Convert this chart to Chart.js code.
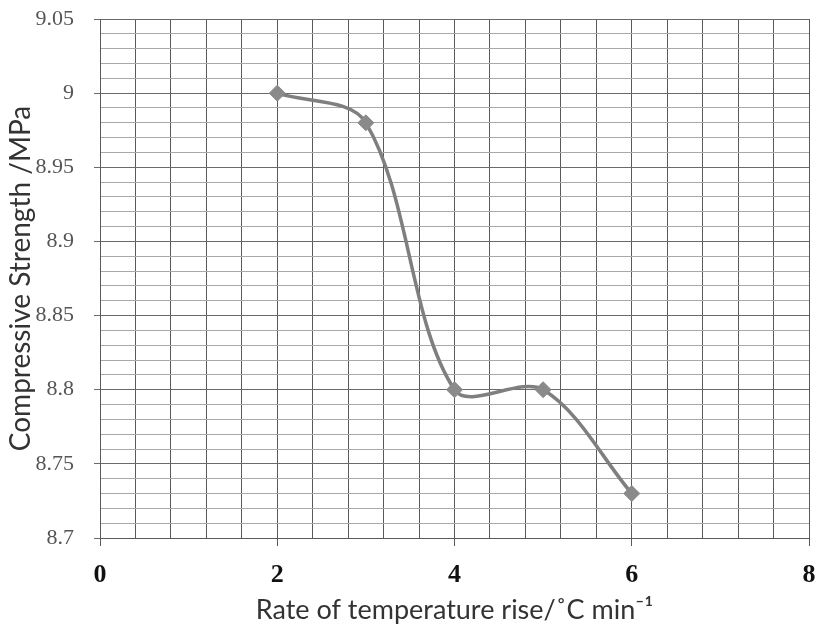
<!DOCTYPE html>
<html>
<head>
<meta charset="utf-8">
<script src="https://cdn.jsdelivr.net/npm/chart.js@4/dist/chart.umd.min.js"></script>
<style>
  html, body { margin: 0; padding: 0; background: #fff; }
  #wrap { width: 818px; height: 635px; position: relative; }
</style>
</head>
<body>
<div id="wrap"><canvas id="c" width="818" height="635"></canvas></div>
<script>
// Heating rate (°C/min) and compressive strength (MPa)
const rates = [2, 3, 4, 5, 6];
const strength = [9.00, 8.98, 8.80, 8.80, 8.73];

// Axis ranges and labelled tick values
const xRange = [0, 8];
const xLabelled = [0, 2, 4, 6, 8];
const yRange = [8.7, 9.05];
const yLabelled = [8.7, 8.75, 8.8, 8.85, 8.9, 8.95, 9, 9.05];

const isLabelledX = v => xLabelled.some(t => Math.abs(t - v) < 1e-6);
const isLabelledY = v => yLabelled.some(t => Math.abs(t - v) < 1e-6);

const points = rates.map((x, i) => ({ x: x, y: strength[i] }));

new Chart(document.getElementById('c'), {
  type: 'scatter',
  data: {
    datasets: [{
      data: points,
      showLine: true,
      tension: 0.33,
      borderColor: '#7f7f7f',
      borderWidth: 3.5,
      pointStyle: 'rectRot',
      pointRadius: 8,
      pointBackgroundColor: '#8a8a8a',
      pointBorderColor: '#8a8a8a',
      pointBorderWidth: 1
    }]
  },
  options: {
    responsive: false,
    animation: false,
    layout: { padding: { top: 19, right: 6, left: 0, bottom: 0 } },
    plugins: { legend: { display: false }, tooltip: { enabled: false } },
    scales: {
      x: {
        type: 'linear',
        min: xRange[0],
        max: xRange[1],
        afterFit: s => { s.height = 97; s.paddingLeft = 0; s.paddingRight = 0; },
        ticks: {
          stepSize: 0.4,
          autoSkip: false,
          maxRotation: 0,
          padding: 14,
          color: '#111',
          font: { family: '"Liberation Serif", "Times New Roman", serif', size: 26, weight: 'bold' },
          callback: v => isLabelledX(v) ? String(Math.round(v)) : ''
        },
        grid: {
          color: '#5a5a5a',
          lineWidth: 1,
          tickLength: 8,
          tickColor: ctx => isLabelledX(ctx.tick.value) ? '#5a5a5a' : 'rgba(0,0,0,0)'
        },
        border: { color: '#5a5a5a', width: 1 },
        title: {
          display: true,
          text: 'Rate of temperature rise/˚C min⁻¹',
          color: '#333',
          font: { family: 'Lato, "Open Sans", sans-serif', size: 27 },
          padding: { top: 0, bottom: 9 }
        }
      },
      y: {
        type: 'linear',
        min: yRange[0],
        max: yRange[1],
        afterFit: s => { s.width = 100; s.paddingTop = 0; s.paddingBottom = 0; },
        ticks: {
          stepSize: 0.01,
          autoSkip: false,
          padding: 20,
          color: '#555',
          font: { family: '"Liberation Serif", "Times New Roman", serif', size: 22 },
          callback: v => isLabelledY(v) ? String(Math.round(v * 100) / 100) : ''
        },
        grid: {
          color: ctx => isLabelledY(ctx.tick.value) ? '#6a6a6a' : '#a8a8a8',
          lineWidth: 1,
          tickLength: 6,
          tickColor: ctx => isLabelledY(ctx.tick.value) ? '#6a6a6a' : 'rgba(0,0,0,0)'
        },
        border: { color: '#5a5a5a', width: 1 },
        title: {
          display: true,
          text: 'Compressive Strength /MPa',
          color: '#333',
          font: { family: 'Lato, "Open Sans", sans-serif', size: 28 },
          padding: { top: 4, bottom: 0 }
        }
      }
    }
  }
});
</script>
</body>
</html>
